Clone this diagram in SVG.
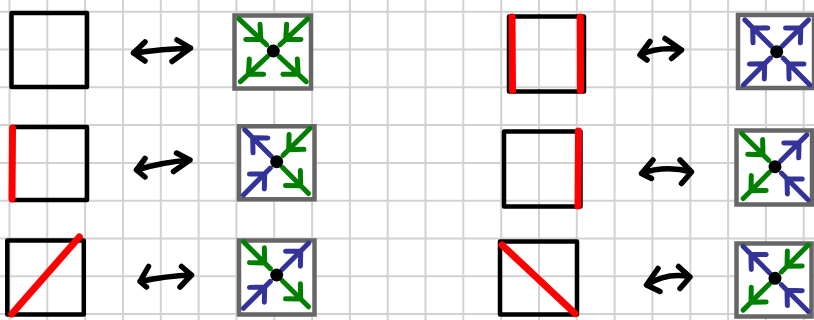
<svg xmlns="http://www.w3.org/2000/svg" xmlns:xlink="http://www.w3.org/1999/xlink" width="814" height="320" viewBox="0 0 814 320">
<style>
.grid{stroke:#d2d2d2;stroke-width:2;fill:none}
.sq{fill:none;stroke:#000;stroke-width:4.5;stroke-linejoin:round}
.bx{fill:#fff;stroke:#666;stroke-width:4.5}
.red{stroke:#ff0000;stroke-width:7;stroke-linecap:round;fill:none}
.dbl{fill:none;stroke:#000;stroke-width:5.5;stroke-linecap:round;stroke-linejoin:round}
.g{stroke:#008000}
.b{stroke:#333399}
.dot{fill:#000}
</style>
<defs>
<path id="ain" d="M9,0 L47,0 M28,-10.5 L17,0 L28,10.5" fill="none" stroke-width="5" stroke-linecap="round" stroke-linejoin="round"/>
<path id="aout" d="M8,0 L45,0 M23,-10.5 L34,0 L23,10.5" fill="none" stroke-width="5" stroke-linecap="round" stroke-linejoin="round"/>
</defs>
<rect width="814" height="320" fill="#fff"/>
<path class="grid" d="M9.5,0V320M47.3,0V320M85.1,0V320M123,0V320M160.8,0V320M198.6,0V320M236.4,0V320M274.2,0V320M312.1,0V320M349.9,0V320M387.7,0V320M425.5,0V320M463.3,0V320M501.2,0V320M539,0V320M576.8,0V320M614.6,0V320M652.4,0V320M690.3,0V320M728.1,0V320M765.9,0V320M803.7,0V320M0,11.7H814M0,49.5H814M0,87.3H814M0,125.1H814M0,162.9H814M0,200.7H814M0,238.5H814M0,276.3H814M0,314.1H814"/>

<g id="tile-r1-left"><rect class="sq" x="11.5" y="13" width="75.5" height="74"/></g>
<g id="tile-r2-left"><rect class="sq" x="12" y="127" width="75" height="73"/><path class="red" d="M12.5,128 L12,199"/></g>
<g id="tile-r3-left"><rect class="sq" x="7.3" y="240.5" width="76.5" height="74"/><path class="red" d="M11.7,314 L79.3,237"/></g>
<g id="tile-r1-right"><rect class="sq" x="509" y="16.5" width="75" height="75"/><path class="red" d="M512,17 L512.5,90.5M580.3,17 L580.5,90.5"/></g>
<g id="tile-r2-right"><rect class="sq" x="504" y="131.5" width="76.5" height="75"/><path class="red" d="M578.5,131 L578,206"/></g>
<g id="tile-r3-right"><rect class="sq" x="500" y="241.5" width="77" height="73"/><path class="red" d="M502,245 L575,313.5"/></g>

<g id="vertex-r1-left">
<rect class="bx" x="234.5" y="15.5" width="76.5" height="73"/>
<use xlink:href="#ain" class="g" transform="translate(273.3,51) rotate(-137)"/>
<use xlink:href="#ain" class="g" transform="translate(273.3,51) rotate(-43)"/>
<use xlink:href="#aout" class="g" transform="translate(273.3,51) rotate(137)"/>
<use xlink:href="#aout" class="g" transform="translate(273.3,51) rotate(43)"/>
<circle class="dot" cx="273.3" cy="51" r="6.5"/>
</g>
<g id="vertex-r2-left">
<rect class="bx" x="239" y="126.3" width="75.5" height="73"/>
<use xlink:href="#aout" class="b" transform="translate(276.7,161.7) rotate(-135)"/>
<use xlink:href="#ain" class="b" transform="translate(276.7,161.7) rotate(135)"/>
<use xlink:href="#ain" class="g" transform="translate(276.7,161.7) rotate(-45)"/>
<use xlink:href="#aout" class="g" transform="translate(276.7,161.7) rotate(45)"/>
<circle class="dot" cx="276.7" cy="161.7" r="6.5"/>
</g>
<g id="vertex-r3-left">
<rect class="bx" x="239" y="240.5" width="75.5" height="74"/>
<use xlink:href="#ain" class="g" transform="translate(276.7,275) rotate(-135)"/>
<use xlink:href="#aout" class="g" transform="translate(276.7,275) rotate(45)"/>
<use xlink:href="#aout" class="b" transform="translate(276.7,275) rotate(-45)"/>
<use xlink:href="#ain" class="b" transform="translate(276.7,275) rotate(135)"/>
<circle class="dot" cx="276.7" cy="275" r="6.5"/>
</g>
<g id="vertex-r1-right">
<rect class="bx" x="738" y="15" width="76" height="73"/>
<use xlink:href="#aout" class="b" transform="translate(776.7,51.7) rotate(-135)"/>
<use xlink:href="#aout" class="b" transform="translate(776.7,51.7) rotate(-45)"/>
<use xlink:href="#ain" class="b" transform="translate(776.7,51.7) rotate(135)"/>
<use xlink:href="#ain" class="b" transform="translate(776.7,51.7) rotate(45)"/>
<circle class="dot" cx="776.7" cy="51.7" r="6.5"/>
</g>
<g id="vertex-r2-right">
<rect class="bx" x="736.5" y="130.5" width="75.5" height="74"/>
<use xlink:href="#ain" class="g" transform="translate(775,166.7) rotate(-135)"/>
<use xlink:href="#aout" class="g" transform="translate(775,166.7) rotate(135)"/>
<use xlink:href="#aout" class="b" transform="translate(775,166.7) rotate(-45)"/>
<use xlink:href="#ain" class="b" transform="translate(775,166.7) rotate(45)"/>
<circle class="dot" cx="775" cy="166.7" r="6.5"/>
</g>
<g id="vertex-r3-right">
<rect class="bx" x="736.5" y="243.5" width="75" height="73"/>
<use xlink:href="#aout" class="b" transform="translate(775,278.3) rotate(-135)"/>
<use xlink:href="#ain" class="b" transform="translate(775,278.3) rotate(45)"/>
<use xlink:href="#ain" class="g" transform="translate(775,278.3) rotate(-45)"/>
<use xlink:href="#aout" class="g" transform="translate(775,278.3) rotate(135)"/>
<circle class="dot" cx="775" cy="278.3" r="6.5"/>
</g>

<g id="connectors">
<path class="dbl" d="M145,42 L133.5,53 L145,61 M133.5,53 Q162,49 190.5,48 M177,40 L190.5,48 L172,61.5"/>
<path class="dbl" d="M145,158.5 L136.5,170 L145,177 M136.5,170 Q163,162 190,160 M176.5,153 L190,160 L173.5,171.5"/>
<path class="dbl" d="M148.5,266.5 L140,281.5 L146.5,287 M140,281.5 Q166,276 191.5,275 M181.5,266.5 L191.5,275 L180,287"/>
<path class="dbl" d="M650,41.5 L640,55 L647,60 M640,55 Q660,46 681.5,50 M665,38.5 L681.5,50 L671.5,58.5"/>
<path class="dbl" d="M653,160 L641.5,173.5 L651.5,178.5 M641.5,173.5 Q665,165 691.5,172 M680,160 L691.5,172 L681.5,183.5"/>
<path class="dbl" d="M658,268.5 L646.5,285 L660,291.5 M646.5,285 Q668,272 690,277 M678.5,266.5 L690,277 L680,288.5"/>
</g>
</svg>
